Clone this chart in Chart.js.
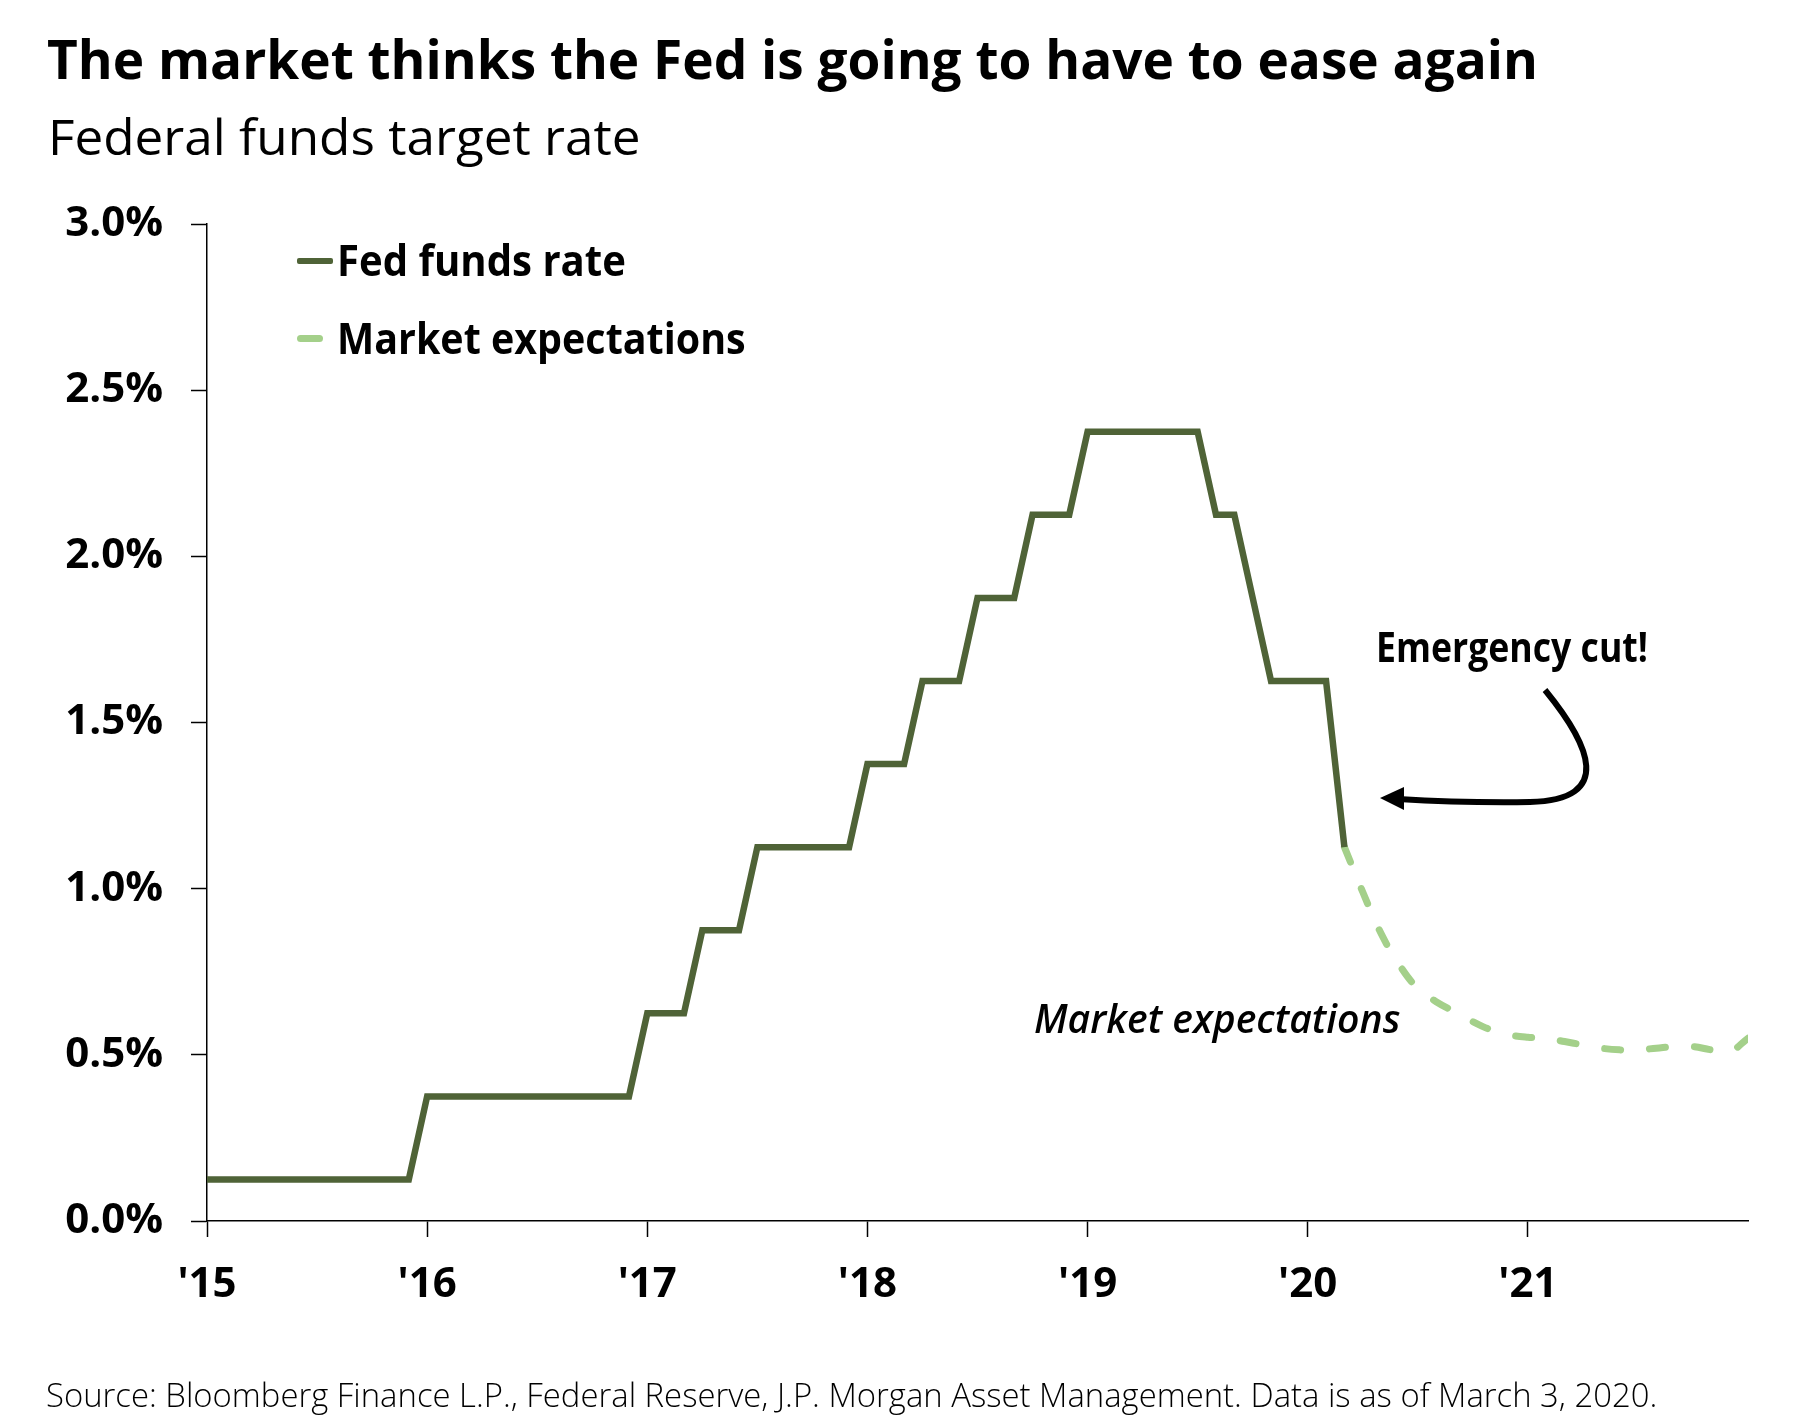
<!DOCTYPE html>
<html>
<head>
<meta charset="utf-8">
<script src="https://cdn.jsdelivr.net/npm/chart.js@4.4.1/dist/chart.umd.min.js"></script>
<style>
  body { margin: 0; background: #fff; }
  #wrap { position: relative; width: 1800px; height: 1423px; overflow: hidden;
          font-family: "Open Sans", "Noto Sans", sans-serif; color: #000; }
  #wrap canvas { position: absolute; left: 0; top: 0; }
  .t { position: absolute; white-space: nowrap; line-height: 1.2; transform-origin: 0 0; }
  .mark { display: inline-block; width: 0; height: 0; }
  .key { position: absolute; }
</style>
</head>
<body>
<div id="wrap">
  <canvas id="chart" width="1800" height="1423"></canvas>

  <div class="t" data-x="47" data-b="79" data-w="1491" style="font-size:54px;font-weight:700">The market thinks the Fed is going to have to ease again</div>
  <div class="t" data-x="48" data-b="155" data-w="593" style="font-size:49px;font-weight:400">Federal funds target rate</div>

  <div class="key" style="left:297px;top:258px;width:36px;height:6px;background:#4f6337;border-radius:2px"></div>
  <div class="t" data-x="337" data-b="276" data-w="289" style="font-size:43px;font-weight:700">Fed funds rate</div>
  <div class="key" style="left:297px;top:335px;width:26px;height:7px;background:#a4d08a;border-radius:4px"></div>
  <div class="t" data-x="337" data-b="354" data-w="409" style="font-size:43px;font-weight:700">Market expectations</div>

  <div class="t" data-x="1376" data-b="662" data-w="272" style="font-size:41px;font-weight:700">Emergency cut!</div>
  <div class="t" data-x="1034" data-b="1033" data-w="366" style="font-size:40px;font-weight:600;font-style:italic">Market expectations</div>

  <div class="t" data-x="46" data-b="1407" data-w="1611" style="font-size:33px;font-weight:300">Source: Bloomberg Finance L.P., Federal Reserve, J.P. Morgan Asset Management. Data is as of March 3, 2020.</div>
</div>

<script>
// monthly fed funds target (mid of range), starting Jan 2015
const fedStart = 2015
const fedRate = [
  0.125, 0.125, 0.125, 0.125, 0.125, 0.125, 0.125, 0.125, 0.125, 0.125, 0.125, 0.125,
  0.375, 0.375, 0.375, 0.375, 0.375, 0.375, 0.375, 0.375, 0.375, 0.375, 0.375, 0.375,
  0.625, 0.625, 0.625, 0.875, 0.875, 0.875, 1.125, 1.125, 1.125, 1.125, 1.125, 1.125,
  1.375, 1.375, 1.375, 1.625, 1.625, 1.625, 1.875, 1.875, 1.875, 2.125, 2.125, 2.125,
  2.375, 2.375, 2.375, 2.375, 2.375, 2.375, 2.375, 2.125, 2.125, 1.875, 1.625, 1.625,
  1.625, 1.625, 1.125
]
// market implied path, monthly from Mar 2020 to Jan 2022
const expStartMonth = 62
const expRate = [
  1.125, 0.99, 0.865, 0.77, 0.70, 0.66, 0.63, 0.60, 0.575, 0.56, 0.553, 0.55,
  0.54, 0.53, 0.52, 0.515, 0.515, 0.52, 0.525, 0.525, 0.515, 0.51, 0.55
]
const yearTicks = [2015, 2016, 2017, 2018, 2019, 2020, 2021]
const seriesNames = ['Fed funds rate', 'Market expectations']

// place html texts on their baseline and squeeze them to the reference width
document.querySelectorAll('.t').forEach(el => {
  const m = document.createElement('span')
  m.className = 'mark'
  el.appendChild(m)
  const box = el.getBoundingClientRect()
  const off = m.getBoundingClientRect().top - box.top
  const w = el.scrollWidth
  el.style.left = el.dataset.x + 'px'
  el.style.top = (el.dataset.b - off) + 'px'
  el.style.transform = 'scaleX(' + (el.dataset.w / w) + ')'
})

const arrowPlugin = {
  id: 'arrow',
  afterDraw(chart) {
    const ctx = chart.ctx
    ctx.save()
    ctx.strokeStyle = '#000'
    ctx.fillStyle = '#000'
    ctx.lineWidth = 6
    ctx.beginPath()
    ctx.moveTo(1545, 690)
    ctx.bezierCurveTo(1590, 745, 1615, 800, 1530, 802)
    ctx.quadraticCurveTo(1465, 803, 1398, 799)
    ctx.stroke()
    ctx.beginPath()
    ctx.moveTo(1380, 798)
    ctx.lineTo(1404, 787)
    ctx.lineTo(1404, 810)
    ctx.closePath()
    ctx.fill()
    ctx.restore()
  }
}

const tickFont = { family: '"Open Sans", "Noto Sans", sans-serif', weight: '700' }

const chart = new Chart(document.getElementById('chart'), {
  type: 'line',
  data: {
    datasets: [
      {
        label: seriesNames[0],
        data: fedRate.map((v, i) => ({ x: fedStart + i / 12, y: v })),
        borderColor: '#4f6337',
        borderWidth: 6.5,
        pointRadius: 0,
        tension: 0,
        borderJoinStyle: 'miter',
        borderCapStyle: 'butt'
      },
      {
        label: seriesNames[1],
        data: expRate.map((v, i) => ({ x: fedStart + (expStartMonth + i) / 12, y: v })),
        borderColor: '#a4d08a',
        borderWidth: 7,
        borderDash: [16, 29],
        borderCapStyle: 'round',
        pointRadius: 0,
        tension: 0.4
      }
    ]
  },
  options: {
    responsive: false,
    animation: false,
    devicePixelRatio: 1,
    layout: { padding: { top: 224, left: 0, right: 52, bottom: 102 } },
    plugins: { legend: { display: false }, tooltip: { enabled: false } },
    scales: {
      x: {
        type: 'linear',
        min: 2015,
        max: 2022,
        afterFit: s => { s.height = 100 },
        afterBuildTicks: s => { s.ticks = yearTicks.concat([2022]).map(v => ({ value: v })) },
        ticks: {
          autoSkip: false,
          maxRotation: 0,
          padding: 23,
          color: '#000',
          font: Object.assign({ size: 42 }, tickFont),
          callback: v => yearTicks.includes(v) ? "'" + String(v).slice(2) : ''
        },
        grid: {
          drawOnChartArea: false,
          tickLength: 16,
          tickWidth: 1.5,
          tickColor: c => (c.tick && c.tick.value === 2022) ? 'rgba(0,0,0,0)' : '#000'
        },
        border: { color: '#000', width: 1.5 }
      },
      y: {
        min: 0,
        max: 3,
        afterFit: s => { s.width = 207 },
        ticks: {
          stepSize: 0.5,
          padding: 28,
          color: '#000',
          font: Object.assign({ size: 42 }, tickFont),
          callback: v => v.toFixed(1) + '%'
        },
        grid: { drawOnChartArea: false, tickLength: 16, tickWidth: 1.5, tickColor: '#000' },
        border: { color: '#000', width: 1.5 }
      }
    }
  },
  plugins: [arrowPlugin]
})
</script>
</body>
</html>
